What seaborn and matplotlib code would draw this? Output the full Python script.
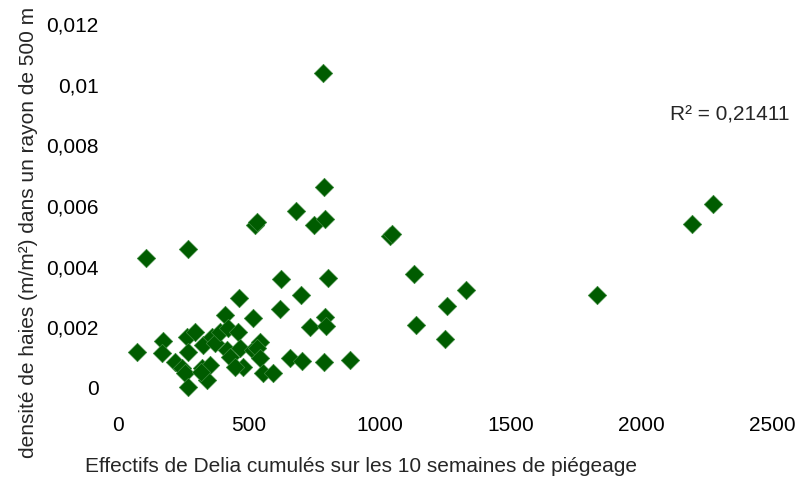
import matplotlib

matplotlib.use("Agg")
import matplotlib.pyplot as plt
import pandas as pd
import seaborn as sns
from matplotlib.ticker import FuncFormatter


# Data
# ---------------------------------
# x: cumulated Delia counts over the 10 trapping weeks
# y: hedge density (m/m2) within a 500 m radius
delia_counts = [
    783, 787, 681, 524, 531, 750, 791, 1040, 1047, 107,
    268, 623, 803, 1132, 1331, 1831, 2194, 2275, 1257, 1139,
    1250, 699, 462, 619, 409, 516, 734, 791, 795, 73,
    172, 168, 264, 294, 268, 325, 360, 370, 390, 421,
    458, 218, 245, 256, 268, 321, 352, 340, 417, 428,
    466, 478, 447, 516, 543, 531, 543, 554, 593, 658,
    703, 787, 887, 317,
]
hedge_density = [
    0.01038, 0.00663, 0.00584, 0.00537, 0.00547, 0.00537, 0.00557, 0.00501, 0.00508, 0.00429,
    0.00458, 0.00359, 0.00363, 0.00376, 0.00323, 0.00307, 0.00541, 0.00607, 0.00270, 0.00208,
    0.00162, 0.00307, 0.00297, 0.00260, 0.00241, 0.00231, 0.00201, 0.00234, 0.00204, 0.00119,
    0.00155, 0.00115, 0.00168, 0.00185, 0.00119, 0.00142, 0.00168, 0.00148, 0.00185, 0.00198,
    0.00185, 0.00086, 0.00066, 0.00049, 0.00003, 0.00066, 0.00076, 0.00026, 0.00125, 0.00102,
    0.00132, 0.00069, 0.00069, 0.00125, 0.00152, 0.00132, 0.00099, 0.00049, 0.00049, 0.00099,
    0.00089, 0.00086, 0.00092, 0.00053,
]
x_ticks = [0, 500, 1000, 1500, 2000, 2500]
y_ticks = [0, 0.002, 0.004, 0.006, 0.008, 0.010, 0.012]
r_squared = "R² = 0,21411"

df = pd.DataFrame({"delia": delia_counts, "densite": hedge_density})

# Style: plain white Excel-like chart, Arial look-alike font
sns.set_style("white")
plt.rcParams["font.family"] = ["Liberation Sans", "DejaVu Sans"]
FS = 15

fig = plt.figure(figsize=(7.98, 4.79), dpi=100)
ax = fig.add_axes([0.1479, 0.19, 0.8195, 0.76])

sns.scatterplot(
    data=df, x="delia", y="densite", ax=ax,
    marker="D", s=88, color="#005c00",
    edgecolor="#3d8a3d", linewidth=0.5, clip_on=False, legend=False,
)

ax.set_xlim(0, 2500)
ax.set_ylim(0, 0.012)
ax.set_xticks(x_ticks)
ax.set_yticks(y_ticks)

# French decimal comma on the y axis, like the original
ax.yaxis.set_major_formatter(FuncFormatter(lambda v, _: f"{v:g}".replace(".", ",")))

ax.tick_params(axis="both", length=0, labelsize=FS, colors="black")
ax.tick_params(axis="y", pad=14)
ax.tick_params(axis="x", pad=20)
sns.despine(ax=ax, left=True, bottom=True)

ax.set_xlabel("")
ax.set_ylabel("")
fig.text(0.453, 0.027, "Effectifs de Delia cumulés sur les 10 semaines de piégeage",
         ha="center", va="center", fontsize=FS)
fig.text(0.036, 0.515, "densité de haies (m/m²) dans un rayon de 500 m",
         ha="center", va="center", rotation=90, fontsize=FS)

ax.text(2110, 0.0090, r_squared, ha="left", va="center", fontsize=FS)

fig.savefig("out.png", dpi=100)
